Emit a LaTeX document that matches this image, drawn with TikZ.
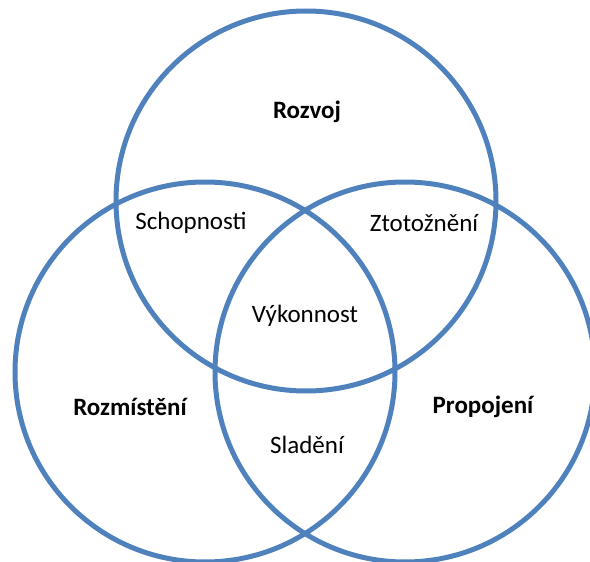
\documentclass[tikz,border=0pt]{standalone}
\usepackage{fontspec}
\setmainfont{Carlito}
\usetikzlibrary{positioning}
\definecolor{ringblue}{HTML}{4F81BD}

\begin{document}
\begin{tikzpicture}[x=1pt, y=-1pt,
  ring/.style={circle, draw=ringblue, line width=5pt, minimum size=380pt, inner sep=0pt},
  area/.style={inner sep=0pt, font=\fontsize{25}{28}\selectfont},
  main/.style={inner sep=0pt, font=\fontsize{25}{28}\selectfont\bfseries}]
  \useasboundingbox (0,0) rectangle (590,562);
  % Define circles
  \node[ring] (top)   at (306,201) {};
  \node[ring] (left)  at (205,372) {};
  \node[ring] (right) at (405,372) {};
  % Define main labels
  \node[main] (rozvoj)     at (307,112) {Rozvoj};
  \node[main] (rozmisteni) at (130,407) {Rozmístění};
  \node[main] (propojeni)  at (483,407) {Propojení};
  % Define overlap labels
  \node[area] (schopnosti) at (191,223) {Schopnosti};
  \node[area] (ztotozneni) at (424,223) {Ztotožnění};
  \node[area] (vykonnost)  at (305,316) {Výkonnost};
  \node[area] (sladeni)    at (307,445) {Sladění};
\end{tikzpicture}
\end{document}
